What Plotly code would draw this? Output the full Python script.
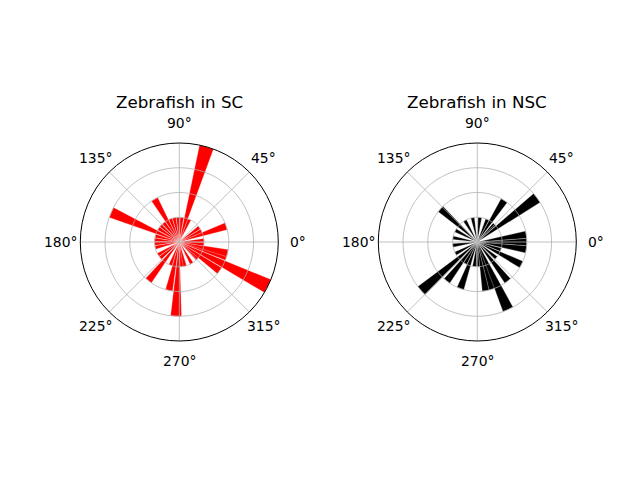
import math
import plotly.graph_objects as go

# ---- data (bar angles in degrees, counts) ----
sc_theta = [4, 18.5, 27, 36, 66, 74, 84, 93, 102, 111, 120, 129, 138, 147, 156.5,
            166, 175, 184, 193, 211, 220, 231.5, 249, 258, 267.5, 276, 283, 300, 317,
            324.5, 333.5, 342.5, 347, 355]
sc_r = [1, 2, 1, 1, 1, 4, 1, 1, 1, 1, 2, 1, 1, 1, 3,
        1, 1, 1, 1, 1, 1, 2, 1, 2, 3, 1, 1, 1, 1,
        2, 4, 2, 2, 1]

nsc_theta = [351.5, 0, 8.5, 36.5, 46, 57, 66, 84, 101, 120, 138, 152, 170,
             188, 208, 221, 232, 241, 250, 263, 272, 280, 288, 294.5, 308,
             320, 333, 342]
nsc_r = [2, 2, 2, 3, 1, 2, 1, 1, 1, 1, 2, 1, 1,
         1, 1, 3, 2, 1, 2, 1, 1, 2, 2, 3, 2,
         1, 2, 1]

titles = ["Zebrafish in SC", "Zebrafish in NSC"]
tick_angles = [0, 45, 90, 135, 180, 225, 270, 315]
tick_text = [f"{a}°" for a in tick_angles]
ring_values = [1, 2, 3]
r_max = 4

FONT = "DejaVu Sans"
GRID = "#b0b0b0"
BAR_W = 8.5

cx = [179.3, 477.3]
cy = 242
R = 99
W, H = 640, 480

fig = go.Figure()
subplots = ["polar", "polar2"]
for sp, th, rr, col in [("polar", sc_theta, sc_r, "red"), ("polar2", nsc_theta, nsc_r, "black")]:
    fig.add_trace(go.Barpolar(theta=th, r=rr, width=BAR_W, subplot=sp,
                              marker=dict(color=col, line=dict(color="white", width=0.3)),
                              hoverinfo="skip"))
    # grid drawn above bars (as matplotlib does)
    circ = list(range(0, 361, 2))
    for rv in ring_values:
        fig.add_trace(go.Scatterpolar(theta=circ, r=[rv] * len(circ), mode="lines",
                                      line=dict(color=GRID, width=0.8), subplot=sp,
                                      hoverinfo="skip"))
    for a in tick_angles:
        fig.add_trace(go.Scatterpolar(theta=[a, a], r=[0, r_max], mode="lines",
                                      line=dict(color=GRID, width=0.8), subplot=sp,
                                      hoverinfo="skip"))


def polar_layout(i):
    x0 = (cx[i] - R) / W
    x1 = (cx[i] + R) / W
    y0 = (H - cy - R) / H
    y1 = (H - cy + R) / H
    return dict(
        domain=dict(x=[x0, x1], y=[y0, y1]),
        bgcolor="white",
        radialaxis=dict(range=[0, r_max], tickvals=ring_values, showticklabels=False,
                        ticks="", showline=False, showgrid=False),
        angularaxis=dict(rotation=0, direction="counterclockwise",
                         tickmode="array", tickvals=tick_angles, ticktext=tick_text,
                         showticklabels=False, ticks="",
                         showline=True, linecolor="black", linewidth=1,
                         showgrid=False),
    )


fig.update_layout(
    width=W, height=H, margin=dict(l=0, r=0, t=0, b=0),
    paper_bgcolor="white", showlegend=False,
    polar=polar_layout(0), polar2=polar_layout(1),
    font=dict(family=FONT),
)

LABEL_R = R + 20
for i, t in enumerate(titles):
    fig.add_annotation(text=t, x=cx[i] / W, y=(H - 102.3) / H, xref="paper", yref="paper",
                       showarrow=False, xanchor="center", yanchor="middle",
                       font=dict(family=FONT, size=16.7, color="black"))
    for a, txt in zip(tick_angles, tick_text):
        px = cx[i] + LABEL_R * math.cos(math.radians(a))
        py = cy - LABEL_R * math.sin(math.radians(a))
        fig.add_annotation(text=txt, x=px / W, y=(H - py) / H, xref="paper", yref="paper",
                           showarrow=False, xanchor="center", yanchor="middle",
                           font=dict(family=FONT, size=13.9, color="black"))

fig.write_html("out.html")
